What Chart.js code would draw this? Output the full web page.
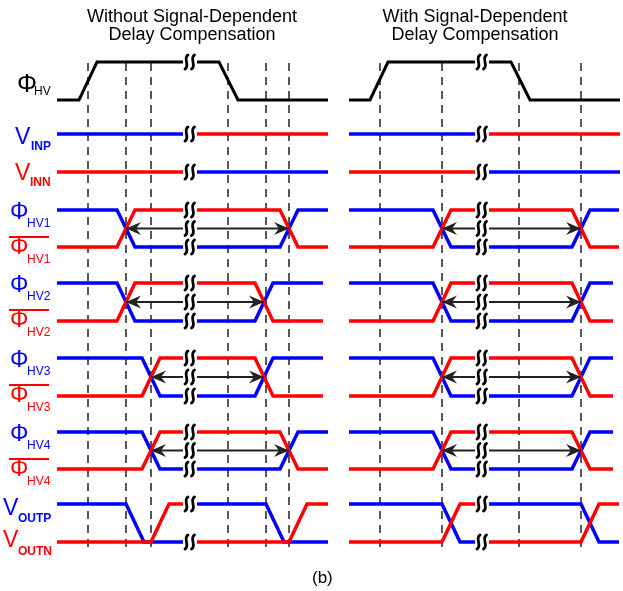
<!DOCTYPE html>
<html>
<head>
<meta charset="utf-8">
<script src="https://cdn.jsdelivr.net/npm/chart.js@4.4.1/dist/chart.umd.min.js"></script>
<style>
  html, body { margin: 0; padding: 0; background: #fff; }
  canvas { display: block; }
</style>
</head>
<body>
<canvas id="timing" width="623" height="591"></canvas>
<script>
// values: time axis runs 0..623, row axis 0..591 (top down)
const panelTitles = [['Without Signal-Dependent', 'Delay Compensation'], ['With Signal-Dependent', 'Delay Compensation']];
const panelCenter = [192, 475];
const panelStart = [57, 349];
const breakAt = [190, 482];
const breakGap = 7;
const dashTimes = [[88, 126, 151, 228, 266, 289], [380, 442, 519, 581]];
const dashSpan = [63, 549];

// rows: phiHV, VINP, VINN, phiHV1..4, VOUT
const rowTop = [62, 134, 172, 210, 283, 358, 432, 504];
const rowBottom = [100, 134, 172, 247, 321, 396, 469, 542];
const rowEnd = [[328, 620], [328, 620], [328, 620], [328, 619], [323, 613], [323, 613], [328, 613], [328, 619]];

const phiHvEdges = [[[79, 97]], [[219, 238]], [[370, 388]], [[511, 530]]]; // rise / fall per panel
const hvCross = [
  [[126, 289], [442, 581]], // HV1
  [[126, 264], [442, 581]], // HV2
  [[151, 264], [442, 581]], // HV3
  [[151, 289], [442, 581]]  // HV4
];
const outpFall = [[126, 266], [442, 581]];
const outnRise = [[151, 289], [442, 581]];
const edgeWidth = 18;

const BLUE = '#0000ff', RED = '#ff0000', BLACK = '#000000';

function seg(row, t0, t1, high, edges) {
  const hi = rowTop[row], lo = rowBottom[row];
  let level = high;
  const pts = [{ x: t0, y: level ? hi : lo }];
  edges.forEach(([a, b]) => {
    pts.push({ x: a, y: level ? hi : lo });
    level = !level;
    pts.push({ x: b, y: level ? hi : lo });
  });
  pts.push({ x: t1, y: level ? hi : lo });
  return pts;
}

function line(data, color, width, order, extra) {
  return Object.assign({
    data, borderColor: color, borderWidth: width, showLine: true,
    pointRadius: 0, tension: 0, borderJoinStyle: 'miter', borderCapStyle: 'butt', order
  }, extra || {});
}

const datasets = [];
for (let p = 0; p < 2; p++) {
  const s = panelStart[p], bA = breakAt[p] - breakGap, bB = breakAt[p] + breakGap;
  const endOf = r => rowEnd[r][p];

  dashTimes[p].forEach(t => {
    datasets.push(line([{ x: t, y: dashSpan[0] }, { x: t, y: dashSpan[1] }], '#222', 1.5, 5, { borderDash: [8, 6] }));
  });

  // phi HV
  datasets.push(line(seg(0, s, bA, false, phiHvEdges[p * 2]), BLACK, 3, 2));
  datasets.push(line(seg(0, bB, endOf(0), true, phiHvEdges[p * 2 + 1]), BLACK, 3, 2));

  // VINP / VINN
  datasets.push(line(seg(1, s, bA, true, []), BLUE, 3.5, 2));
  datasets.push(line(seg(1, bB, endOf(1), true, []), RED, 3.5, 2));
  datasets.push(line(seg(2, s, bA, true, []), RED, 3.5, 2));
  datasets.push(line(seg(2, bB, endOf(2), true, []), BLUE, 3.5, 2));

  // phi HV1..4 and complements
  hvCross.forEach((cr, i) => {
    const r = 3 + i, [c1, c2] = cr[p], h = edgeWidth / 2;
    const eA = [[c1 - h, c1 + h]], eB = [[c2 - h, c2 + h]];
    datasets.push(line(seg(r, s, bA, true, eA), BLUE, 3.5, 3));
    datasets.push(line(seg(r, bB, endOf(r), false, eB), BLUE, 3.5, 3));
    datasets.push(line(seg(r, s, bA, false, eA), RED, 3.5, 2));
    datasets.push(line(seg(r, bB, endOf(r), true, eB), RED, 3.5, 2));
    const mid = (rowTop[r] + rowBottom[r]) / 2;
    datasets.push(line([{ x: c1, y: mid }, { x: bA, y: mid }], '#222', 2, 1, { arrow: 'start' }));
    datasets.push(line([{ x: bB, y: mid }, { x: c2, y: mid }], '#222', 2, 1, { arrow: 'end' }));
  });

  // VOUTP / VOUTN
  const fp = outpFall[p], rn = outnRise[p];
  datasets.push(line(seg(7, s, bA, true, [[fp[0], fp[0] + edgeWidth]]), BLUE, 3.5, 3));
  datasets.push(line(seg(7, bB, endOf(7), true, [[fp[1], fp[1] + edgeWidth]]), BLUE, 3.5, 3));
  datasets.push(line(seg(7, s, bA, false, [[rn[0], rn[0] + edgeWidth]]), RED, 3.5, 2));
  datasets.push(line(seg(7, bB, endOf(7), false, [[rn[1], rn[1] + edgeWidth]]), RED, 3.5, 2));
}

// arrow heads and break marks
const decorations = {
  id: 'decorations',
  afterDatasetsDraw(chart) {
    const ctx = chart.ctx, xs = chart.scales.x, ys = chart.scales.y;
    ctx.save();
    chart.data.datasets.forEach((ds, i) => {
      if (!ds.arrow) return;
      const pts = chart.getDatasetMeta(i).data;
      const tip = ds.arrow === 'start' ? pts[0] : pts[pts.length - 1];
      const dir = ds.arrow === 'start' ? 1 : -1;
      ctx.fillStyle = '#222';
      ctx.beginPath();
      ctx.moveTo(tip.x, tip.y);
      ctx.lineTo(tip.x + dir * 15, tip.y - 6.5);
      ctx.lineTo(tip.x + dir * 10, tip.y);
      ctx.lineTo(tip.x + dir * 15, tip.y + 6.5);
      ctx.closePath();
      ctx.fill();
    });

    const breakRows = [rowTop[0], rowTop[1], rowTop[2]];
    for (let r = 3; r <= 6; r++) breakRows.push(rowTop[r], (rowTop[r] + rowBottom[r]) / 2, rowBottom[r]);
    breakRows.push(rowTop[7], rowBottom[7]);
    ctx.strokeStyle = '#000';
    ctx.lineWidth = 2.8;
    ctx.lineCap = 'round';
    breakAt.forEach(b => {
      breakRows.forEach(r => {
        const cy = ys.getPixelForValue(r);
        [-3.5, 3].forEach(off => {
          const cx = xs.getPixelForValue(b + off);
          ctx.beginPath();
          ctx.moveTo(cx + 1.5, cy - 7);
          ctx.bezierCurveTo(cx - 4, cy - 4, cx + 4, cy + 4, cx - 1.5, cy + 7);
          ctx.stroke();
        });
      });
    });
    ctx.restore();
  }
};

// titles, signal names and caption
const labels = {
  id: 'labels',
  afterDraw(chart) {
    const ctx = chart.ctx, xs = chart.scales.x, ys = chart.scales.y;
    const X = v => xs.getPixelForValue(v), Y = v => ys.getPixelForValue(v);
    const FONT = '"Liberation Sans", Arial, sans-serif';
    ctx.save();
    ctx.textBaseline = 'alphabetic';

    ctx.fillStyle = '#000';
    ctx.font = '18px ' + FONT;
    ctx.textAlign = 'center';
    panelTitles.forEach((t, p) => {
      ctx.fillText(t[0], X(panelCenter[p]), 22);
      ctx.fillText(t[1], X(panelCenter[p]), 40);
    });
    ctx.font = '17px ' + FONT;
    ctx.textAlign = 'left';
    ctx.fillText('(b)', 312, 583);

    function name(main, sub, color, x, y, sx, sy, size, bold) {
      ctx.fillStyle = color;
      ctx.font = size + 'px ' + FONT;
      ctx.fillText(main, x, y);
      ctx.font = (bold ? 'bold ' : '') + '12px ' + FONT;
      ctx.fillText(sub, sx, sy);
    }

    name('Φ', 'HV', BLACK, 17, Y(rowBottom[0]) - 8, 34, Y(rowBottom[0]) - 5, 25, false);
    name('V', 'INP', BLUE, 15, Y(rowTop[1]) + 10, 31, Y(rowTop[1]) + 16, 23, true);
    name('V', 'INN', RED, 15, Y(rowTop[2]) + 8, 30, Y(rowTop[2]) + 14, 23, true);
    for (let i = 0; i < 4; i++) {
      const T = Y(rowTop[3 + i]), n = 'HV' + (i + 1);
      name('Φ', n, BLUE, 10, T + 9, 27, T + 17, 23, false);
      ctx.strokeStyle = RED;
      ctx.lineWidth = 2;
      ctx.beginPath();
      ctx.moveTo(9, T + 27);
      ctx.lineTo(49, T + 27);
      ctx.stroke();
      name('Φ', n, RED, 10, T + 44, 27, T + 53, 23, false);
    }
    name('V', 'OUTP', BLUE, 3, Y(rowTop[7]) + 11, 18, Y(rowTop[7]) + 18, 23, true);
    name('V', 'OUTN', RED, 3, Y(rowBottom[7]) + 5, 18, Y(rowBottom[7]) + 13, 23, true);
    ctx.restore();
  }
};

new Chart(document.getElementById('timing'), {
  type: 'scatter',
  data: { datasets },
  options: {
    responsive: false,
    animation: false,
    events: [],
    layout: { padding: 0 },
    plugins: { legend: { display: false }, tooltip: { enabled: false } },
    scales: {
      x: { type: 'linear', min: 0, max: 623, display: false },
      y: { type: 'linear', min: 0, max: 591, reverse: true, display: false }
    }
  },
  plugins: [decorations, labels]
});
</script>
</body>
</html>
